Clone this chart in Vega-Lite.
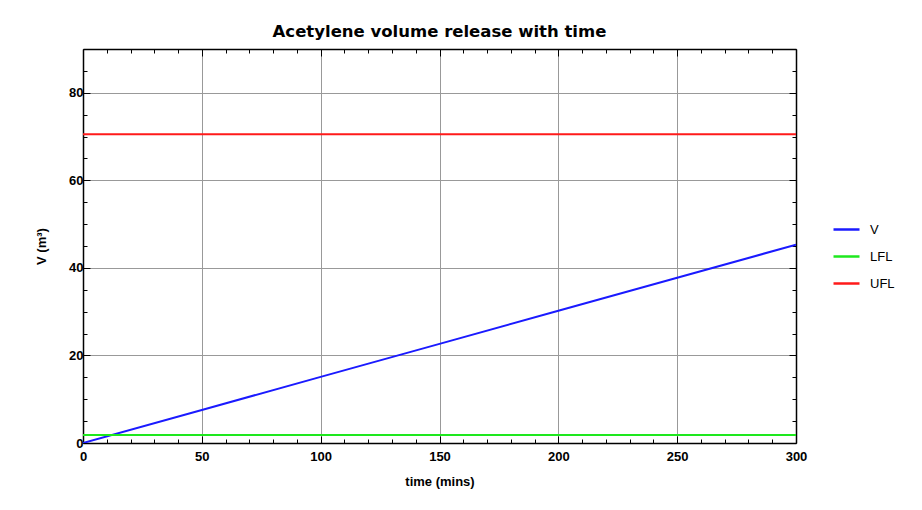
{
  "$schema": "https://vega.github.io/schema/vega-lite/v6.json",
  "autosize": "none",
  "width": 713,
  "height": 394,
  "padding": {"left": 83, "top": 49, "right": 126, "bottom": 67},
  "background": "white",
  "title": {
    "text": "Acetylene volume release with time",
    "font": "DejaVu Sans",
    "fontSize": 16.5,
    "fontWeight": "bold",
    "color": "#000000",
    "offset": 3,
    "anchor": "middle"
  },
  "data": {
    "values": [
      {"t": 0, "value": 0, "series": "V"},
      {"t": 50, "value": 7.55, "series": "V"},
      {"t": 100, "value": 15.1, "series": "V"},
      {"t": 150, "value": 22.65, "series": "V"},
      {"t": 200, "value": 30.2, "series": "V"},
      {"t": 250, "value": 37.75, "series": "V"},
      {"t": 300, "value": 45.3, "series": "V"},
      {"t": 0, "value": 1.8, "series": "LFL"},
      {"t": 300, "value": 1.8, "series": "LFL"},
      {"t": 0, "value": 70.5, "series": "UFL"},
      {"t": 300, "value": 70.5, "series": "UFL"}
    ]
  },
  "layer": [
    {
      "mark": {"type": "line", "strokeWidth": 2, "clip": true},
      "encoding": {
        "x": {
          "field": "t",
          "type": "quantitative",
          "scale": {"domain": [0, 300], "nice": false, "zero": false},
          "axis": {
            "orient": "bottom",
            "title": "time (mins)",
            "values": [0,10,20,30,40,50,60,70,80,90,100,110,120,130,140,150,160,170,180,190,200,210,220,230,240,250,260,270,280,290,300],
            "labelExpr": "datum.value % 50 === 0 ? datum.label : ''",
            "grid": true,
            "gridColor": "#999999",
            "gridWidth": 1,
            "gridOpacity": {"condition": {"test": "datum.value % 50 === 0 && datum.value > 0 && datum.value < 300", "value": 1}, "value": 0},
            "tickSize": {"condition": {"test": "datum.value % 50 === 0", "value": -7}, "value": -4},
            "tickColor": "#000000",
            "tickWidth": 1,
            "domainColor": "#000000",
            "domainWidth": 1.5,
            "labelPadding": 14,
            "labelFont": "Liberation Sans",
            "labelFontSize": 13,
            "labelFontWeight": "bold",
            "labelColor": "#000000",
            "labelFlush": false,
            "labelOverlap": false,
            "titleFont": "Liberation Sans",
            "titleFontSize": 13,
            "titleFontWeight": "bold",
            "titleColor": "#000000",
            "titlePadding": 9
          }
        },
        "y": {
          "field": "value",
          "type": "quantitative",
          "scale": {"domain": [0, 90], "nice": false},
          "axis": {
            "orient": "left",
            "title": "V (m³)",
            "values": [0,5,10,15,20,25,30,35,40,45,50,55,60,65,70,75,80,85,90],
            "labelExpr": "datum.value % 20 === 0 ? datum.label : ''",
            "grid": true,
            "gridColor": "#999999",
            "gridWidth": 1,
            "gridOpacity": {"condition": {"test": "datum.value % 20 === 0 && datum.value > 0", "value": 1}, "value": 0},
            "tickSize": {"condition": {"test": "datum.value % 20 === 0", "value": -7}, "value": -4},
            "tickColor": "#000000",
            "tickWidth": 1,
            "domainColor": "#000000",
            "domainWidth": 1.5,
            "labelPadding": 7,
            "labelFont": "Liberation Sans",
            "labelFontSize": 13,
            "labelFontWeight": "bold",
            "labelColor": "#000000",
            "labelFlush": false,
            "labelOverlap": false,
            "titleFont": "Liberation Sans",
            "titleFontSize": 13,
            "titleFontWeight": "bold",
            "titleColor": "#000000",
            "titlePadding": 20
          }
        },
        "color": {
          "field": "series",
          "type": "nominal",
          "scale": {"domain": ["V", "LFL", "UFL"], "range": ["#1a1aff", "#1ee81e", "#ff1a1a"]},
          "legend": {
            "title": null,
            "orient": "none",
            "legendX": 749,
            "legendY": 166,
            "symbolType": "stroke",
            "symbolSize": 676,
            "symbolStrokeWidth": 2.5,
            "labelFont": "Liberation Sans",
            "labelFontSize": 13,
            "labelColor": "#000000",
            "labelOffset": 9,
            "rowPadding": 5,
            "padding": 0
          }
        },
        "detail": {"field": "series"}
      }
    },
    {
      "mark": {"type": "line", "opacity": 0},
      "encoding": {
        "x": {
          "field": "t",
          "type": "quantitative",
          "scale": {"domain": [0, 300], "nice": false, "zero": false},
          "axis": {
            "orient": "top",
            "title": null,
            "values": [0,10,20,30,40,50,60,70,80,90,100,110,120,130,140,150,160,170,180,190,200,210,220,230,240,250,260,270,280,290,300],
            "labels": false,
            "grid": false,
            "tickSize": {"condition": {"test": "datum.value % 50 === 0", "value": -7}, "value": -4},
            "tickColor": "#000000",
            "domainColor": "#000000",
            "domainWidth": 1.5
          }
        },
        "y": {
          "field": "value",
          "type": "quantitative",
          "scale": {"domain": [0, 90], "nice": false},
          "axis": {
            "orient": "right",
            "title": null,
            "values": [0,5,10,15,20,25,30,35,40,45,50,55,60,65,70,75,80,85,90],
            "labels": false,
            "grid": false,
            "tickSize": {"condition": {"test": "datum.value % 20 === 0", "value": -7}, "value": -4},
            "tickColor": "#000000",
            "domainColor": "#000000",
            "domainWidth": 1.5
          }
        },
        "detail": {"field": "series"}
      }
    }
  ],
  "resolve": {"axis": {"x": "independent", "y": "independent"}},
  "config": {
    "view": {"stroke": null}
  }
}
